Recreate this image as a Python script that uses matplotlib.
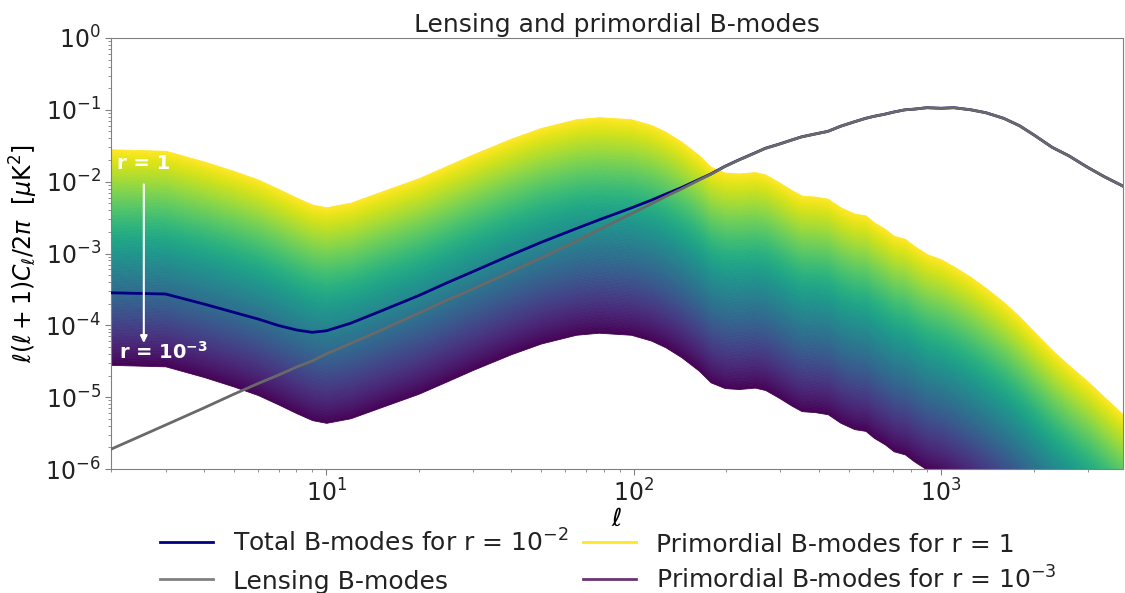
import numpy as np
import matplotlib
matplotlib.use("Agg")
import matplotlib.pyplot as plt
from matplotlib.lines import Line2D

# multipoles and spectra (D_ell in muK^2)
ell = np.array([2, 3, 4, 5, 6, 7, 8, 9, 10, 12, 15, 20, 25, 30, 40, 50, 65, 77, 98,
                114, 127, 143, 163, 178, 198, 220, 248, 268, 296, 327, 352, 389, 428,
                471, 522, 568, 604, 657, 701, 763, 815, 900, 1000, 1100, 1250, 1400,
                1600, 1800, 2000, 2300, 2600, 3000, 3400, 3900])

# primordial B-modes for r = 1
prim_r1 = np.array([2.82e-2, 2.69e-2, 1.91e-2, 1.41e-2, 1.07e-2, 7.9e-3, 6.0e-3, 4.8e-3,
                    4.4e-3, 5.1e-3, 7.2e-3, 1.12e-2, 1.70e-2, 2.40e-2, 3.98e-2, 5.6e-2,
                    7.4e-2, 7.9e-2, 7.4e-2, 6.14e-2, 4.95e-2, 3.6e-2, 2.34e-2, 1.61e-2,
                    1.34e-2, 1.30e-2, 1.36e-2, 1.26e-2, 9.9e-3, 7.6e-3, 6.4e-3, 6.2e-3,
                    5.8e-3, 4.4e-3, 3.6e-3, 3.4e-3, 2.73e-3, 2.2e-3, 1.77e-3, 1.6e-3,
                    1.29e-3, 9.8e-4, 8.3e-4, 6.6e-4, 4.7e-4, 3.3e-4, 2.1e-4, 1.32e-4,
                    8.3e-5, 4.5e-5, 2.8e-5, 1.66e-5, 1.0e-5, 5.8e-6])

# lensing B-modes
lensing = np.array([1.9e-6, 4.1e-6, 7.1e-6, 1.10e-5, 1.55e-5, 2.04e-5, 2.63e-5, 3.2e-5,
                    4.0e-5, 5.6e-5, 8.5e-5, 1.48e-4, 2.3e-4, 3.2e-4, 5.6e-4, 8.7e-4,
                    1.48e-3, 2.14e-3, 3.55e-3, 4.9e-3, 6.2e-3, 7.9e-3, 1.05e-2, 1.26e-2,
                    1.62e-2, 2.0e-2, 2.5e-2, 2.9e-2, 3.3e-2, 3.8e-2, 4.2e-2, 4.6e-2,
                    5.0e-2, 5.9e-2, 6.8e-2, 7.6e-2, 8.1e-2, 8.7e-2, 9.3e-2, 1.0e-1,
                    1.02e-1, 1.07e-1, 1.05e-1, 1.07e-1, 1.0e-1, 9.1e-2, 7.6e-2, 6.0e-2,
                    4.5e-2, 3.0e-2, 2.3e-2, 1.58e-2, 1.17e-2, 8.7e-3])

r_min, r_max, r_total = 1e-3, 1.0, 1e-2

fig = plt.figure(figsize=(11.25, 5.93), dpi=100)
ax = fig.add_axes([0.099, 0.209, 0.899, 0.727])
cmap = plt.get_cmap("viridis")

# colour band between r = 1e-3 and r = 1
n_bands = 150
r_edges = np.logspace(np.log10(r_min), np.log10(r_max), n_bands + 1)
for i in range(n_bands):
    c = cmap((i + 0.5) / n_bands)
    ax.fill_between(ell, r_edges[i] * prim_r1, r_edges[i + 1] * prim_r1,
                    facecolor=c, edgecolor=c, lw=0.6, zorder=1)

total = r_total * prim_r1 + lensing
ax.plot(ell, total, color="navy", lw=2, zorder=3)
ax.plot(ell, lensing, color="dimgray", lw=2, zorder=4)

ax.set_xscale("log")
ax.set_yscale("log")
ax.set_xlim(2, 3900)
ax.set_ylim(1e-6, 1)

for s in ax.spines.values():
    s.set_color("gray")
ax.tick_params(which="both", colors="gray", labelcolor="#222222", labelsize=17)
ax.tick_params(which="major", length=4)
ax.tick_params(which="minor", length=2)

ax.set_title("Lensing and primordial B-modes", fontsize=18, color="#222222", pad=4)
ax.set_xlabel(r"$\ell$", fontsize=18, labelpad=0)
ax.set_ylabel(r"$\ell(\ell+1)C_\ell/2\pi\ \ [\mu\mathrm{K}^2]$", fontsize=17)

# r annotations
ax.text(2.55, 1.8e-2, "r = 1", color="white", fontsize=14, fontweight="bold",
        ha="center", va="center", zorder=5)
ax.annotate("", xy=(2.55, 5.2e-5), xytext=(2.55, 1.0e-2),
            arrowprops=dict(arrowstyle="-|>", color="white", lw=1.5), zorder=5)
ax.text(2.12, 4.3e-5, r"r = 10$^{\mathbf{-3}}$", color="white", fontsize=14,
        fontweight="bold", ha="left", va="center", zorder=5)

# legend laid out by hand so both columns share row baselines
entries = [
    ("navy", 1.0, r"Total B-modes for r = $10^{-2}$", 0.1422, 0.0865),
    ("gray", 1.0, "Lensing B-modes", 0.1422, 0.0236),
    (cmap(1.0), 1.0, "Primordial B-modes for r = 1", 0.5182, 0.0865),
    (cmap(0.0), 0.8, r"Primordial B-modes for r = $10^{-3}$", 0.5182, 0.0236),
]
for color, alpha, label, x0, y0 in entries:
    fig.add_artist(Line2D([x0, x0 + 0.047], [y0, y0], color=color, alpha=alpha, lw=2,
                          transform=fig.transFigure))
    fig.text(x0 + 0.0646, y0 - 0.0168, label, fontsize=18, color="#222222",
             va="baseline", ha="left")

fig.savefig("out.png", dpi=100)
